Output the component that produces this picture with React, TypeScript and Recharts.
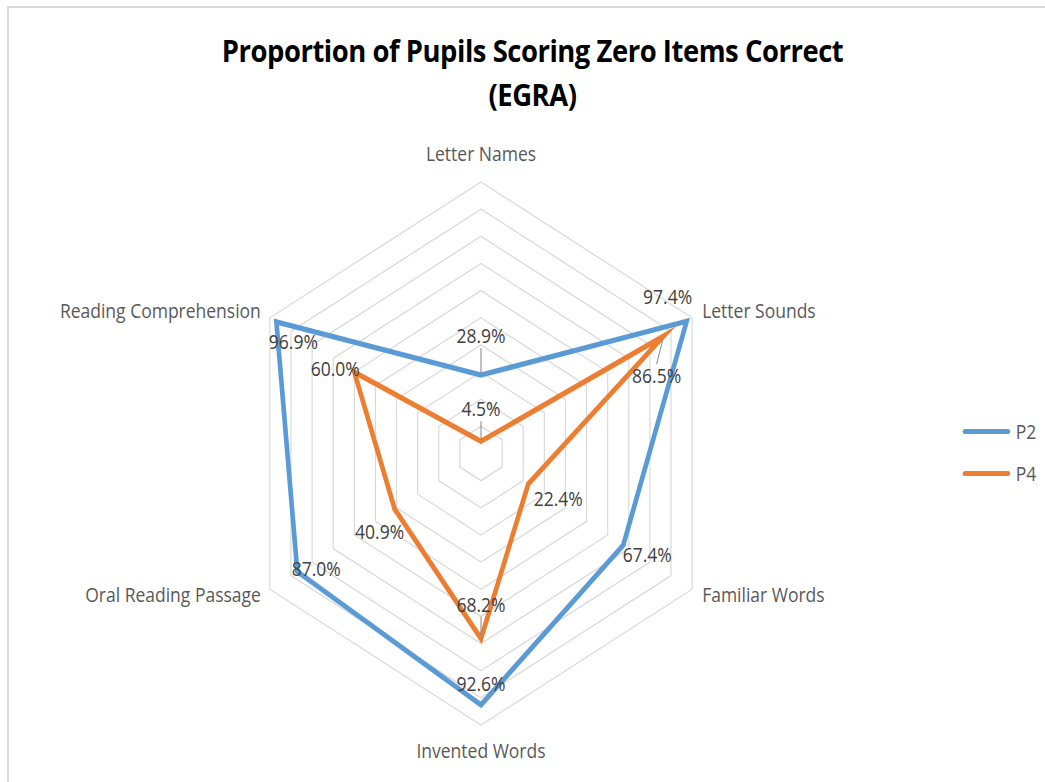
import React from 'react';
import {
  RadarChart,
  Radar,
  PolarGrid,
  PolarAngleAxis,
  PolarRadiusAxis,
  LabelList,
  Legend,
} from 'recharts';

const categories = [
  'Letter Names',
  'Letter Sounds',
  'Familiar Words',
  'Invented Words',
  'Oral Reading Passage',
  'Reading Comprehension',
];
const p2Values = [28.9, 97.4, 67.4, 92.6, 87.0, 96.9];
const p4Values = [4.5, 86.5, 22.4, 68.2, 40.9, 60.0];
const radiusTicks = 11; // 0..100 step 10

const chartData = categories.map((category, i) => ({
  category,
  P2: p2Values[i],
  P4: p4Values[i],
}));

// the source picture is squeezed horizontally, so the whole chart is drawn in a scaled box
const SX = 0.898;
const W = 1045 / SX;
const H = 782;
const CX = 481 / SX;
const CY = 453.5;
const R = 271.5;
const FONT = '"Open Sans", "Noto Sans", sans-serif';

const P2_COLOR = '#5B9BD5';
const P4_COLOR = '#ED7D31';

// label offsets from the point, in screen pixels, plus whether a leader line is drawn
const p2LabelPos: [number, number, boolean][] = [
  [0, -39, true], [-19, -24, false], [24, 10, false],
  [0, -21, false], [19, -3, false], [17, 20, false],
];
const p4LabelPos: [number, number, boolean][] = [
  [0, -32, true], [-7, 40, true], [30, 15, false],
  [0, -34, true], [-15, 23, false], [-19, -3, false],
];

const makeLabel = (pos: [number, number, boolean][]) => (props: any) => {
  const { x, y, value, index } = props;
  if (x == null || y == null) return null;
  const [dx, dy, leader] = pos[index];
  const lx = x + dx / SX;
  const ly = y + dy;
  const dir = dy < 0 ? 1 : -1;
  const ex = lx;
  const ey = ly + dir * 12;
  return (
    <g>
      {leader && (
        <line
          x1={x + (ex - x) * 0.08}
          y1={y + (ey - y) * 0.08}
          x2={ex}
          y2={ey}
          stroke="#8c8c8c"
          strokeWidth={1.2}
        />
      )}
      <text
        x={lx}
        y={ly}
        dy="0.36em"
        textAnchor="middle"
        fontFamily={FONT}
        fontSize={19.5}
        fill="#404040"
      >
        {`${Number(value).toFixed(1)}%`}
      </text>
    </g>
  );
};

const AngleTick = (props: any) => {
  const { payload } = props;
  const a = (payload.coordinate * Math.PI) / 180;
  const cos = Math.cos(a);
  const sin = Math.sin(a);
  const vx = CX + R * cos;
  const vy = CY - R * sin;
  let x = vx;
  let y = vy;
  let anchor: 'start' | 'middle' | 'end' = 'middle';
  if (Math.abs(cos) < 0.01) {
    y = vy + (sin > 0 ? -28 : 26);
  } else {
    x = vx + (cos > 0 ? 10 : -9) / SX;
    y = vy + (sin > 0 ? -7 : 6);
    anchor = cos > 0 ? 'start' : 'end';
  }
  return (
    <text
      x={x}
      y={y}
      dy="0.36em"
      textAnchor={anchor}
      fontFamily={FONT}
      fontSize={19.5}
      fill="#595959"
    >
      {payload.value}
    </text>
  );
};

const LegendContent = () => (
  <div style={{ fontFamily: FONT, fontSize: 19.5, color: '#595959' }}>
    {[
      { name: 'P2', color: P2_COLOR },
      { name: 'P4', color: P4_COLOR },
    ].map((s) => (
      <div key={s.name} style={{ display: 'flex', alignItems: 'center', height: 42 }}>
        <span
          style={{
            display: 'inline-block',
            width: 53,
            height: 5,
            borderRadius: 3,
            background: s.color,
            marginRight: 6,
          }}
        />
        <span>{s.name}</span>
      </div>
    ))}
  </div>
);

export default function App() {
  return (
    <div
      style={{
        position: 'absolute',
        left: 0,
        top: 0,
        width: 1045,
        height: 782,
        overflow: 'hidden',
        background: '#fff',
      }}
    >
      <div
        style={{
          position: 'absolute',
          left: 7,
          top: 6,
          right: 0,
          bottom: 0,
          borderTop: '2px solid #d9d9d9',
          borderLeft: '2px solid #d9d9d9',
        }}
      />
      <div
        style={{
          position: 'absolute',
          left: 0,
          top: 0,
          width: W,
          height: H,
          transform: `scaleX(${SX})`,
          transformOrigin: '0 0',
        }}
      >
        <div
          style={{
            position: 'absolute',
            left: 0,
            top: 28,
            width: 593 * 2,
            textAlign: 'center',
            fontFamily: FONT,
            fontWeight: 700,
            fontSize: 30.5,
            letterSpacing: -0.5,
            lineHeight: '44px',
            color: '#000',
          }}
        >
          Proportion of Pupils Scoring Zero Items Correct
          <br />
          (EGRA)
        </div>
        <RadarChart
          width={W}
          height={H}
          data={chartData}
          cx={CX}
          cy={CY}
          outerRadius={R}
          margin={{ top: 0, right: 0, bottom: 0, left: 0 }}
        >
          <PolarGrid gridType="polygon" radialLines={false} stroke="#d9d9d9" strokeWidth={1.3} />
          <PolarRadiusAxis domain={[0, 100]} tickCount={radiusTicks} tick={false} axisLine={false} />
          <PolarAngleAxis dataKey="category" tick={<AngleTick />} tickLine={false} axisLine={false} />
          <Radar
            name="P2"
            dataKey="P2"
            stroke={P2_COLOR}
            strokeWidth={5.2}
            strokeMiterlimit={10}
            fill="none"
            fillOpacity={0}
            dot={false}
            isAnimationActive={false}
          >
            <LabelList dataKey="P2" content={makeLabel(p2LabelPos)} />
          </Radar>
          <Radar
            name="P4"
            dataKey="P4"
            stroke={P4_COLOR}
            strokeWidth={5.2}
            strokeMiterlimit={10}
            fill="none"
            fillOpacity={0}
            dot={false}
            isAnimationActive={false}
          >
            <LabelList dataKey="P4" content={makeLabel(p4LabelPos)} />
          </Radar>
          <Legend
            layout="vertical"
            content={<LegendContent />}
            wrapperStyle={{ left: 1072, top: 410, width: 120 }}
          />
        </RadarChart>
      </div>
    </div>
  );
}
